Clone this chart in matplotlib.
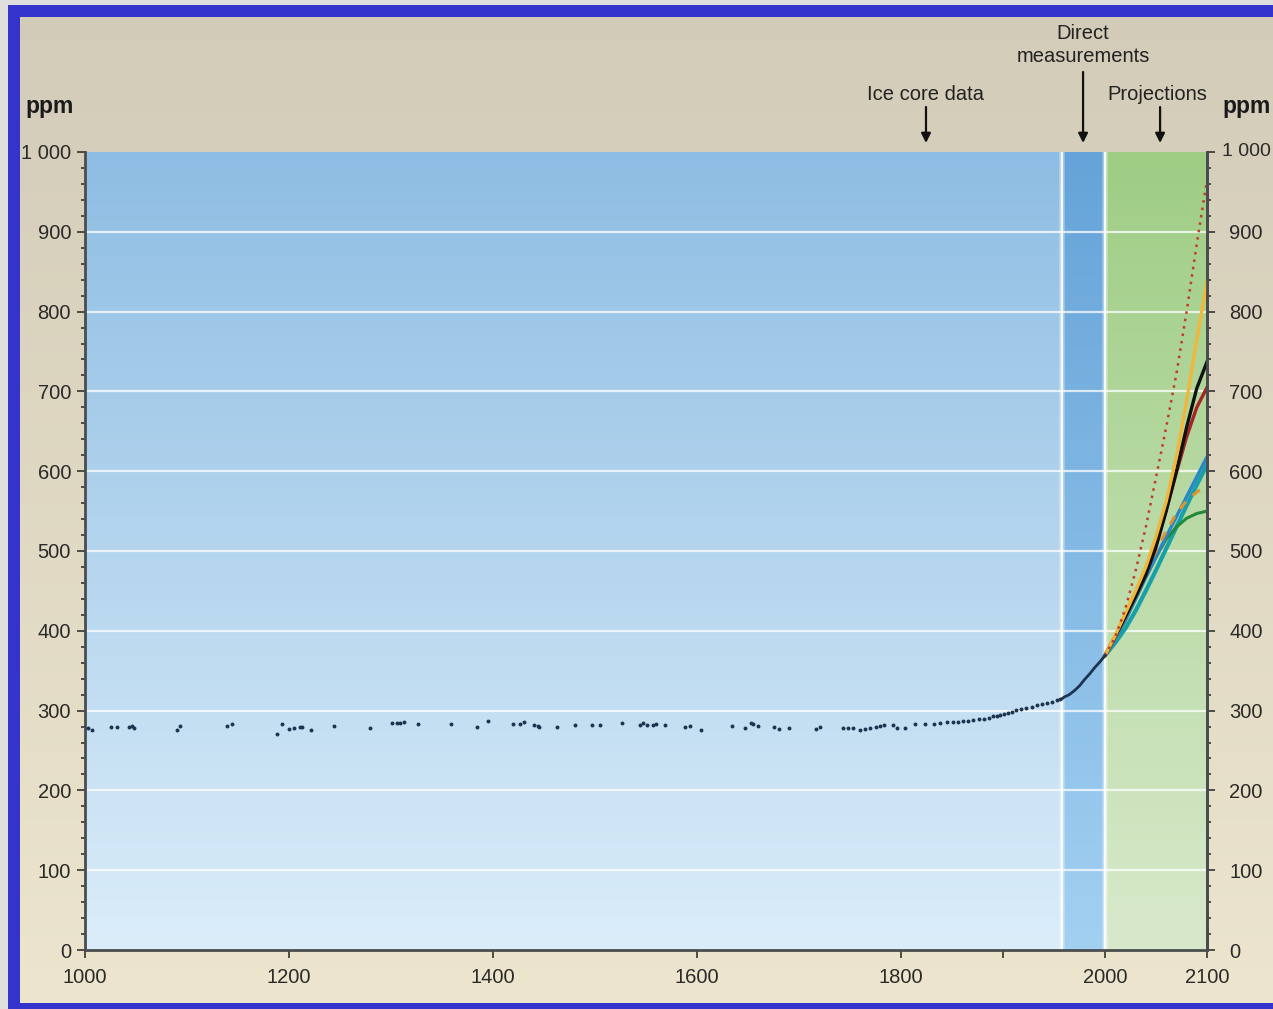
import numpy as np
import matplotlib
matplotlib.use("Agg")
import matplotlib.pyplot as plt
from matplotlib.patches import Rectangle
from matplotlib.colors import to_rgb

plt.rcParams['font.family'] = ['Liberation Sans', 'DejaVu Sans']

# ---------------- data ----------------
ice_years = [1003, 1007, 1025, 1031, 1043, 1046, 1048, 1090, 1093, 1139, 1144,
             1188, 1193, 1200, 1205, 1211, 1213, 1222, 1244, 1279, 1301, 1306,
             1309, 1313, 1326, 1359, 1384, 1395, 1420, 1426, 1430, 1440, 1444,
             1445, 1463, 1480, 1497, 1505, 1526, 1544, 1547, 1551, 1557, 1560,
             1569, 1588, 1593, 1604, 1634, 1647, 1653, 1655, 1660, 1675, 1680,
             1690, 1717, 1721, 1743, 1748, 1753, 1760, 1765, 1770, 1775, 1779,
             1783, 1792, 1796, 1804, 1814, 1824, 1832, 1838, 1845, 1851, 1856,
             1861, 1866, 1871, 1876, 1881, 1886, 1890, 1894, 1897, 1901, 1905,
             1909, 1913, 1918, 1923, 1928, 1933, 1938, 1943, 1948, 1953, 1956]
ice_ppm = [278.6, 275.7, 279.8, 279.6, 279.8, 281.0, 277.6, 275.7, 281.0, 281.0, 282.6,
           271.0, 282.8, 277.0, 278.6, 279.8, 279.8, 275.7, 281.0, 278.6, 284.0, 284.5,
           284.0, 285.8, 282.8, 282.6, 279.0, 287.0, 283.2, 283.5, 285.8, 282.3, 280.6,
           279.0, 279.6, 282.0, 282.0, 282.0, 284.5, 282.3, 284.0, 282.0, 282.3, 283.8,
           282.0, 279.6, 280.6, 275.3, 280.3, 278.2, 285.0, 283.8, 280.3, 279.6, 277.0,
           277.6, 276.6, 279.0, 277.8, 277.8, 278.0, 275.7, 277.0, 278.6, 279.4, 280.3,
           281.4, 281.4, 278.6, 278.2, 282.8, 282.8, 283.6, 284.5, 285.8, 285.8, 286.2,
           287.0, 287.4, 287.9, 289.0, 290.0, 291.3, 292.9, 293.4, 294.2, 295.5, 297.0,
           298.6, 300.4, 302.0, 303.8, 305.0, 306.7, 308.0, 309.6, 311.0, 313.0, 314.5]

ml_years = [1958, 1960, 1965, 1970, 1975, 1980, 1985, 1990, 1995, 2000]
ml_ppm = [315, 317, 320, 325, 331, 339, 346, 354, 361, 369]

proj_years = [2000, 2010, 2020, 2030, 2040, 2050, 2060, 2070, 2080, 2090, 2100]
proj_teal = [369, 385, 403, 425, 450, 476, 503, 530, 557, 583, 608]
proj_green = [369, 390, 413, 440, 467, 492, 515, 530, 541, 547, 550]
proj_blue = [369, 390, 414, 440, 467, 493, 518, 543, 568, 593, 618]
a1t_years = [2000, 2010, 2020, 2030, 2040, 2050, 2060, 2070, 2080, 2090, 2095]
proj_orange_dash = [369, 392, 418, 446, 474, 500, 525, 547, 563, 574, 578]
proj_darkred = [369, 393, 418, 444, 472, 508, 552, 598, 643, 680, 705]
proj_black = [369, 393, 418, 443, 470, 505, 550, 600, 655, 704, 737]
proj_orange = [369, 394, 422, 450, 480, 518, 562, 618, 688, 765, 838]
proj_red_dot = [369, 392, 428, 475, 530, 592, 655, 722, 800, 885, 965]

x_ticks = [1000, 1200, 1400, 1600, 1800, 1900, 2000, 2100]
x_labels = ['1000', '1200', '1400', '1600', '1800', '', '2000', '2100']
y_ticks = [0, 100, 200, 300, 400, 500, 600, 700, 800, 900, 1000]
y_labels = ['0', '100', '200', '300', '400', '500', '600', '700', '800', '900', '1 000']

# ---------------- figure ----------------
W, H = 1273, 1009
fig = plt.figure(figsize=(W / 100, H / 100), dpi=100)


def vgrad(top, bottom, n=256):
    t = np.linspace(0, 1, n)[:, None]
    a = np.array(to_rgb(top))[None, :]
    b = np.array(to_rgb(bottom))[None, :]
    return (a * (1 - t) + b * t)[:, None, :]


# background
bg = fig.add_axes([0, 0, 1, 1], zorder=-10)
bg.set_axis_off()
bg.imshow(vgrad('#d2cbb8', '#ede5cd'), extent=[0, 1, 0, 1], aspect='auto',
          transform=bg.transAxes)
bg.set_xlim(0, 1)
bg.set_ylim(0, 1)


def frect(x0, y0, x1, y1, color):
    bg.add_patch(Rectangle((x0 / W, 1 - y1 / H), (x1 - x0) / W, (y1 - y0) / H,
                           transform=bg.transAxes, color=color, lw=0, zorder=5))


frect(0, 0, 8, H, '#dedede')
frect(0, 0, W, 5, '#dedede')
frect(8, 5, 20, H, '#3434cc')
frect(8, 5, W, 17, '#3434cc')
frect(8, 1003, W, H, '#3434cc')

# main axes
L, R, T, B = 85, 1207, 152, 950
ax = fig.add_axes([L / W, 1 - B / H, (R - L) / W, (B - T) / H])
ax.patch.set_alpha(0)

ax.imshow(vgrad('#8ebde3', '#dbedf9'), extent=[1000, 1958, 0, 1000], aspect='auto', zorder=0)
ax.imshow(vgrad('#65a3d8', '#a2d0f1'), extent=[1958, 2000, 0, 1000], aspect='auto', zorder=0)
ax.imshow(vgrad('#9ecd84', '#d8e9cb'), extent=[2000, 2100, 0, 1000], aspect='auto', zorder=0)
ax.set_xlim(1000, 2100)
ax.set_ylim(0, 1000)

for yv in range(100, 1000, 100):
    ax.axhline(yv, color='white', lw=1.6, alpha=0.75, zorder=1)
for xv in (1958, 2000):
    ax.axvline(xv, color='white', lw=4, alpha=0.35, zorder=1)
    ax.axvline(xv, color='white', lw=1.6, alpha=0.9, zorder=1)

# data
ax.scatter(ice_years, ice_ppm, s=8, color='#1d3350', zorder=4, linewidths=0)
ax.plot(ml_years, ml_ppm, color='#1d3350', lw=2.0, zorder=4)

ax.plot(proj_years, proj_teal, color='#17a0a8', lw=3.0, zorder=3)
ax.plot(proj_years, proj_green, color='#23883a', lw=2.2, zorder=3)
ax.plot(proj_years, proj_blue, color='#2a86c6', lw=2.4, zorder=3)
ax.plot(a1t_years, proj_orange_dash, color='#e3902e', lw=2.2, ls=(0, (3, 3)), zorder=3)
ax.plot(proj_years, proj_darkred, color='#a42424', lw=2.4, zorder=3)
ax.plot(proj_years, proj_black, color='#111111', lw=2.4, zorder=3)
ax.plot(proj_years, proj_orange, color='#f2b63a', lw=2.4, zorder=3)
ax.plot(proj_years, proj_red_dot, color='#c23a2a', lw=1.8, ls=(0, (1, 2)), zorder=3)

# spines and ticks
ax.spines['top'].set_visible(False)
for s in ('left', 'bottom', 'right'):
    ax.spines[s].set_color('#4a4d4d')
    ax.spines[s].set_linewidth(2)

ax.set_xticks(x_ticks)
ax.set_xticklabels(x_labels)
ax.set_yticks(y_ticks)
ax.set_yticklabels(y_labels)
ax.set_yticks(np.arange(0, 1001, 20), minor=True)
ax.tick_params(axis='x', direction='out', length=6, width=1.2, color='#333333',
               labelsize=14.5, labelcolor='#2a2a2a', pad=7)
ax.tick_params(axis='y', which='major', direction='out', length=6, width=1.2,
               color='#333333', labelsize=14.5, labelcolor='#2a2a2a', pad=4,
               left=True, right=False)
ax.tick_params(axis='y', which='minor', direction='out', length=3, width=1.2,
               color='#333333', left=True, right=False)

ax2 = ax.twinx()
ax2.set_ylim(0, 1000)
ax2.set_yticks(y_ticks)
ax2.set_yticklabels(y_labels[:-1] + [''])
ax2.set_yticks(np.arange(0, 1001, 20), minor=True)
for s in ('top', 'left', 'bottom'):
    ax2.spines[s].set_visible(False)
ax2.spines['right'].set_color('#4a4d4d')
ax2.spines['right'].set_linewidth(2)
ax2.tick_params(axis='y', which='major', direction='out', length=6, width=1.2,
                color='#333333', labelsize=14.5, labelcolor='#2a2a2a', pad=10)
ax2.tick_params(axis='y', which='minor', direction='out', length=3, width=1.2,
                color='#333333')
# top right label placed closer to the edge (as in the reference)
ax2.text(1.013, 1.0, y_labels[-1], transform=ax2.transAxes, ha='left', va='center',
         fontsize=14, color='#2a2a2a', clip_on=False)

# units
fig.text(25 / W, 1 - 107 / H, 'ppm', fontsize=16.5, fontweight='bold', color='#1a1a1a',
         ha='left', va='center')
fig.text(1222 / W, 1 - 107 / H, 'ppm', fontsize=16.5, fontweight='bold', color='#1a1a1a',
         ha='left', va='center', clip_on=True)


def yfrac(px):
    return (B - px) / (B - T)


arrowprops = dict(arrowstyle='-|>', color='#111111', lw=1.6, mutation_scale=14,
                  shrinkA=0, shrinkB=0)
tr = ax.get_xaxis_transform()
ax.annotate('', xy=(1824.5, yfrac(143)), xytext=(1824.5, yfrac(107)),
            xycoords=tr, textcoords=tr, arrowprops=arrowprops, annotation_clip=False)
ax.text(1824.5, yfrac(95), 'Ice core data', transform=tr, ha='center', va='center',
        fontsize=14.5, color='#222222')
ax.annotate('', xy=(1978.5, yfrac(143)), xytext=(1978.5, yfrac(72)),
            xycoords=tr, textcoords=tr, arrowprops=arrowprops, annotation_clip=False)
ax.text(1978.5, yfrac(45), 'Direct\nmeasurements', transform=tr, ha='center',
        va='center', fontsize=14.5, color='#222222', linespacing=1.25)
ax.annotate('', xy=(2054, yfrac(143)), xytext=(2054, yfrac(107)),
            xycoords=tr, textcoords=tr, arrowprops=arrowprops, annotation_clip=False)
ax.text(2051, yfrac(95), 'Projections', transform=tr, ha='center', va='center',
        fontsize=14.5, color='#222222')

fig.savefig('out.png', dpi=100)
